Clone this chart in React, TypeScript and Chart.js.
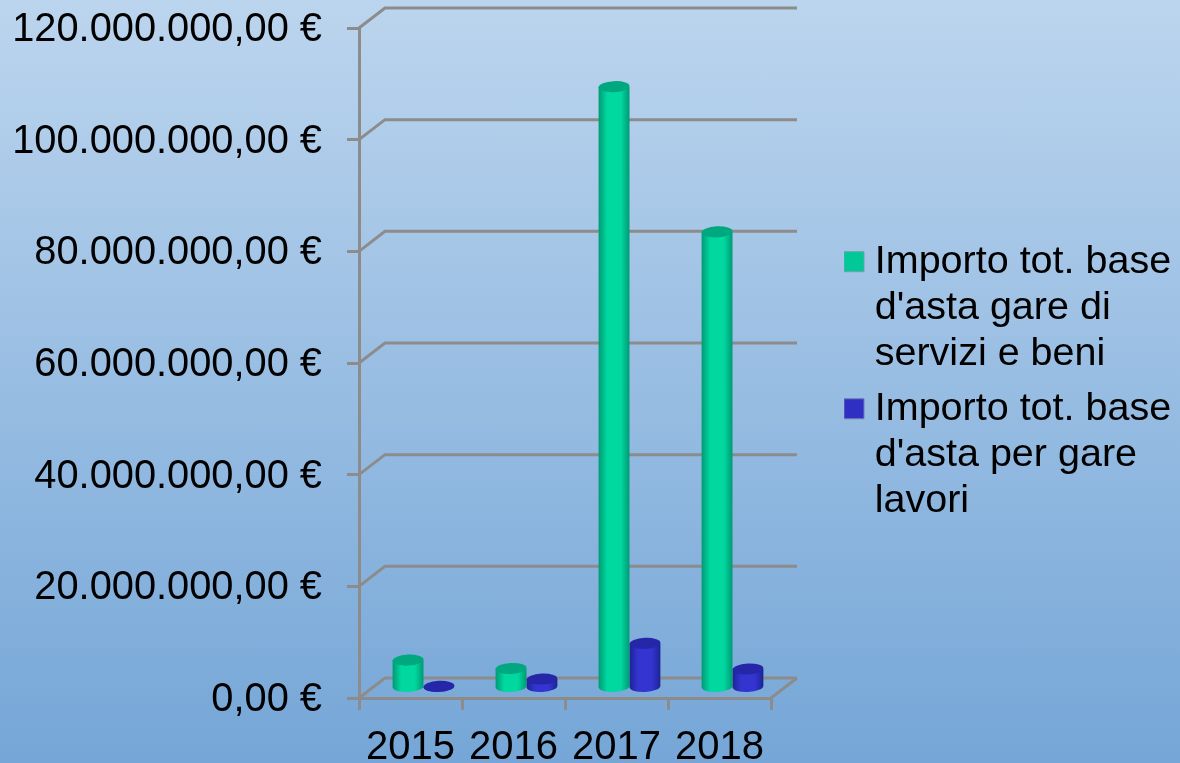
import React, { useEffect, useRef } from "react";
import { Chart, registerables } from "chart.js";

Chart.register(...registerables);

const years = ["2015", "2016", "2017", "2018"];
const serviziValues = [5000000, 3500000, 107700000, 81700000];
const lavoriValues = [300000, 1600000, 8000000, 3400000];
const serviziLabel = ["Importo tot. base", "d'asta gare di", "servizi e beni"];
const lavoriLabel = ["Importo tot. base", "d'asta per gare", "lavori"];

const FONT = "'Liberation Sans', Arial, sans-serif";
const GRID = "#8c8c8c";
const DEPTH_X = 26;
const DEPTH_Y = 20;

const palettes = [
  { edge: "#009a74", mid: "#00d8a0", top: "#00a880", swatch: "#00c896" },
  { edge: "#1c2494", mid: "#3434d0", top: "#2626a8", swatch: "#2f2fc4" },
];

const formatEuro = (v: number) => {
  const whole = String(Math.round(v)).replace(/\B(?=(\d{3})+$)/g, ".");
  return `${whole},00 €`;
};

const wallsPlugin = {
  id: "walls",
  beforeDatasetsDraw(chart: any) {
    const { ctx, chartArea, scales } = chart;
    const { left, right, bottom } = chartArea;
    ctx.save();
    ctx.strokeStyle = GRID;
    ctx.lineWidth = 3;
    ctx.lineJoin = "miter";
    scales.y.ticks.forEach((t: any) => {
      const y = scales.y.getPixelForValue(t.value);
      ctx.beginPath();
      ctx.moveTo(left, y);
      ctx.lineTo(left + DEPTH_X, y - DEPTH_Y);
      ctx.lineTo(right + DEPTH_X, y - DEPTH_Y);
      ctx.stroke();
    });
    ctx.beginPath();
    ctx.moveTo(right, bottom);
    ctx.lineTo(right + DEPTH_X, bottom - DEPTH_Y);
    ctx.stroke();
    ctx.restore();
  },
};

const cylinderPlugin = {
  id: "cylinders",
  beforeDatasetDraw(chart: any, args: any) {
    const { ctx } = chart;
    const pal = palettes[args.index];
    args.meta.data.forEach((bar: any) => {
      const { x, y, base, width } = bar.getProps(["x", "y", "base", "width"], true);
      const cx = x + DEPTH_X / 2;
      const rx = width / 2;
      const ry = 5.5;
      const top = y - DEPTH_Y / 2;
      const bot = base - DEPTH_Y / 2;
      const g = ctx.createLinearGradient(cx - rx, 0, cx + rx, 0);
      g.addColorStop(0, pal.edge);
      g.addColorStop(0.28, pal.mid);
      g.addColorStop(0.72, pal.mid);
      g.addColorStop(1, pal.edge);
      ctx.save();
      ctx.fillStyle = g;
      ctx.beginPath();
      ctx.moveTo(cx - rx, top);
      ctx.lineTo(cx - rx, bot);
      ctx.ellipse(cx, bot, rx, ry, -0.05, Math.PI, 0, true);
      ctx.lineTo(cx + rx, top);
      ctx.closePath();
      ctx.fill();
      ctx.fillStyle = pal.top;
      ctx.beginPath();
      ctx.ellipse(cx, top, rx, ry, -0.05, 0, Math.PI * 2);
      ctx.fill();
      ctx.restore();
    });
    return false;
  },
};

const legendPlacePlugin = {
  id: "legendPlace",
  beforeLayout(chart: any) {
    const legend = chart.legend;
    if (legend && !legend.__wrapped) {
      const orig = legend.fit.bind(legend);
      legend.fit = () => {
        orig();
        legend.width = 409;
      };
      legend.__wrapped = true;
    }
  },
  afterLayout(chart: any) {
    const legend = chart.legend;
    if (legend) {
      legend.left = 844;
      legend.top -= 11;
      legend.bottom -= 11;
    }
  },
};

export default function App() {
  const ref = useRef<HTMLCanvasElement | null>(null);
  useEffect(() => {
    if (!ref.current) return;
    const chart = new Chart(ref.current, {
      type: "bar",
      data: {
        labels: years,
        datasets: [
          { label: "servizi", data: serviziValues, backgroundColor: palettes[0].swatch, categoryPercentage: 0.6, barPercentage: 1 },
          { label: "lavori", data: lavoriValues, backgroundColor: palettes[1].swatch, categoryPercentage: 0.6, barPercentage: 1 },
        ],
      },
      plugins: [wallsPlugin, cylinderPlugin, legendPlacePlugin],
      options: {
        animation: false,
        responsive: false,
        layout: { padding: { top: 28 } },
        scales: {
          x: {
            afterFit: (s: any) => { s.height = 65; },
            grid: { drawOnChartArea: false, tickLength: 12, color: GRID, lineWidth: 3 },
            border: { color: GRID, width: 3 },
            ticks: { color: "#000", font: { family: FONT, size: 40 }, padding: 14, maxRotation: 0, autoSkip: false },
          },
          y: {
            min: 0,
            max: 120000000,
            afterFit: (s: any) => { s.width = 359; s.paddingTop = 0; s.paddingBottom = 0; },
            grid: { drawOnChartArea: false, tickLength: 12, color: GRID, lineWidth: 3 },
            border: { color: GRID, width: 3 },
            ticks: {
              stepSize: 20000000,
              color: "#000",
              font: { family: FONT, size: 39.8 },
              padding: 25,
              labelOffset: 2,
              callback: (v: any) => formatEuro(Number(v)),
            },
          },
        },
        plugins: {
          tooltip: { enabled: false },
          legend: {
            position: "right",
            labels: {
              usePointStyle: true,
              boxWidth: 2,
              boxHeight: 20,
              padding: 9,
              color: "#000",
              font: { family: FONT, size: 39.5, lineHeight: 1.165 },
              generateLabels: () => [
                { text: serviziLabel, fillStyle: palettes[0].swatch, strokeStyle: "#6f9fb0", lineWidth: 1, pointStyle: "rect", datasetIndex: 0 },
                { text: lavoriLabel, fillStyle: palettes[1].swatch, strokeStyle: "#6f7fb0", lineWidth: 1, pointStyle: "rect", datasetIndex: 1 },
              ],
            },
          },
        },
      },
    } as any);
    return () => chart.destroy();
  }, []);
  return (
    <canvas
      ref={ref}
      width={1180}
      height={763}
      style={{
        position: "absolute",
        left: 0,
        top: 0,
        display: "block",
        background: "linear-gradient(180deg, #bcd5ee 0%, #75a6d7 100%)",
      }}
    />
  );
}
